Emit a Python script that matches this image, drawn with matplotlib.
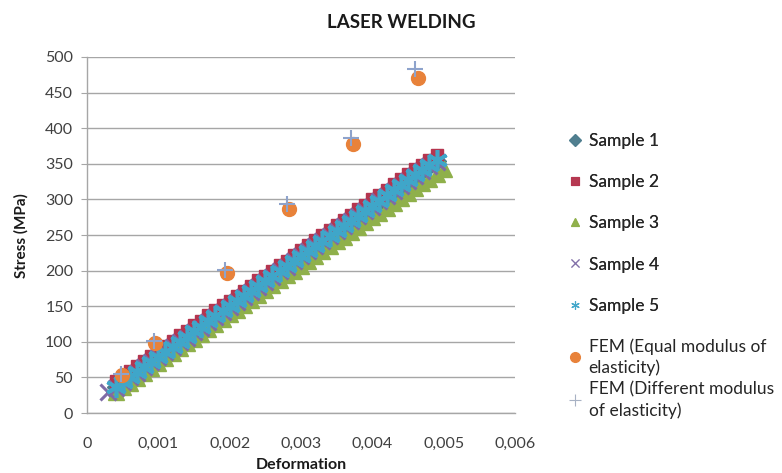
import numpy as np
import matplotlib
matplotlib.use("Agg")
import matplotlib.pyplot as plt
from matplotlib.lines import Line2D
from matplotlib.ticker import FuncFormatter

# ==========================================
# data
# ==========================================
nan = np.nan

strain = [
    0.0003, 0.0004, 0.0005, 0.0006, 0.0007, 0.0008, 0.0009, 0.0010,
    0.0011, 0.0012, 0.0013, 0.0014, 0.0015, 0.0016, 0.0017, 0.0018,
    0.0019, 0.0020, 0.0021, 0.0022, 0.0023, 0.0024, 0.0025, 0.0026,
    0.0027, 0.0028, 0.0029, 0.0030, 0.0031, 0.0032, 0.0033, 0.0034,
    0.0035, 0.0036, 0.0037, 0.0038, 0.0039, 0.0040, 0.0041, 0.0042,
    0.0043, 0.0044, 0.0045, 0.0046, 0.0047, 0.0048, 0.0049, 0.0050,
]

sample1 = [
    nan, 36, 43, 51, 57, 65, 71, 79,
    85, 93, 99, 107, 114, 121, 128, 135,
    142, 150, 156, 164, 170, 178, 184, 192,
    198, 206, 213, 220, 227, 234, 241, 248,
    255, 263, 269, 277, 283, 291, 297, 305,
    312, 319, 326, 333, 340, 347, 354, nan,
]
sample2 = [
    nan, 45, 51, 59, 66, 73, 80, 88,
    94, 101, 109, 115, 123, 129, 137, 144,
    151, 158, 165, 172, 179, 187, 193, 200,
    208, 214, 222, 229, 236, 243, 250, 257,
    264, 271, 278, 286, 292, 300, 306, 313,
    321, 328, 335, 342, 349, 356, 363, nan,
]
sample3 = [
    nan, 29, 36, 42, 49, 56, 63, 70,
    77, 84, 91, 98, 104, 111, 118, 125,
    132, 139, 145, 152, 159, 166, 173, 180,
    187, 194, 200, 207, 214, 221, 227, 234,
    241, 247, 254, 261, 268, 275, 281, 288,
    295, 302, 309, 316, 323, 329, 336, 343,
]
sample4 = [
    29, 35, 43, 50, 56, 64, 71, 78,
    85, 92, 100, 106, 114, 120, 128, 135,
    142, 149, 156, 163, 170, 177, 184, 191,
    199, 205, 213, 220, 227, 234, 241, 248,
    255, 262, 270, 276, 284, 290, 298, 305,
    312, 319, 326, 333, 340, 347, 353, nan,
]
sample5 = [
    nan, 37, 44, 51, 58, 65, 72, 79,
    86, 93, 100, 107, 115, 121, 129, 136,
    143, 150, 157, 164, 171, 178, 185, 192,
    200, 207, 214, 221, 228, 235, 242, 249,
    256, 263, 270, 277, 284, 291, 298, 306,
    313, 320, 327, 334, 341, 348, 355, nan,
]

fem_eq_strain = [0.00049, 0.00095, 0.00196, 0.00283, 0.00373, 0.00464]
fem_eq_stress = [53, 98, 197, 287, 378, 471]
fem_diff_strain = [0.00047, 0.00094, 0.00193, 0.00280, 0.00370, 0.00460]
fem_diff_stress = [55, 101, 201, 294, 386, 483]

x_ticks = [0, 0.001, 0.002, 0.003, 0.004, 0.005, 0.006]
y_ticks = [0, 50, 100, 150, 200, 250, 300, 350, 400, 450, 500]

# ==========================================
# styling
# ==========================================
plt.rcParams['font.family'] = ['Lato', 'DejaVu Sans']
TXT = '#404040'
GRID = '#a6a6a6'

fig = plt.figure(figsize=(7.82, 4.73), dpi=100)
ax = fig.add_axes([87 / 782, 1 - 413 / 473, (515 - 87) / 782, (413 - 57) / 473])

series = [
    ("Sample 1", sample1, dict(marker='D', color='#4d7d8e', ms=9)),
    ("Sample 2", sample2, dict(marker='s', color='#b5354f', ms=9)),
    ("Sample 3", sample3, dict(marker='^', color='#8fb04a', ms=11)),
    ("Sample 4", sample4, dict(marker='x', color='#7e6ba6', ms=12, mew=2.2)),
    ("Sample 5", sample5, dict(marker=(6, 2, 0), color='#3fa6c9', ms=15, mew=2.6)),
]

handles = []
for label, vals, st in series:
    ax.plot(strain, vals, linestyle='none', marker=st['marker'], color=st['color'],
            markersize=st['ms'], markeredgewidth=st.get('mew', 1.0))
    # legend markers look faded/small in the reference
    handles.append(Line2D([], [], linestyle='none', marker=st['marker'], color=st['color'],
                          markersize=6, markeredgewidth=0.8, alpha=0.85, label=label))

ax.plot(fem_eq_strain, fem_eq_stress, linestyle='none', marker='o', color='#e8823a',
        markersize=10)
ax.plot(fem_diff_strain, fem_diff_stress, linestyle='none', marker='+', color='#8ea3cc',
        markersize=12, markeredgewidth=1.5)

fem_handles = [
    Line2D([], [], linestyle='none', marker='o', color='#e8823a', markersize=7,
           label="FEM (Equal modulus of\nelasticity)"),
    Line2D([], [], linestyle='none', marker='+', color='#a8b2c4', markersize=8,
           markeredgewidth=0.8, label="FEM (Different modulus\nof elasticity)"),
]

# axes
ax.set_xlim(0, 0.006)
ax.set_ylim(0, 500)
ax.set_xticks(x_ticks)
ax.set_yticks(y_ticks)
ax.xaxis.set_major_formatter(FuncFormatter(lambda v, p: "0" if v == 0 else f"{v:.3f}".replace('.', ',')))
ax.yaxis.grid(True, color=GRID, linewidth=1.0)
ax.set_axisbelow(True)
for s in ['top', 'right']:
    ax.spines[s].set_visible(False)
for s in ['left', 'bottom']:
    ax.spines[s].set_color(GRID)
    ax.spines[s].set_linewidth(1.0)
ax.tick_params(axis='y', length=4, color=GRID, pad=6, labelsize=11.5, labelcolor=TXT)
ax.tick_params(axis='x', length=0, pad=17, labelsize=11.5, labelcolor=TXT)

fig.text(401 / 782, 1 - 22 / 473, "LASER WELDING", ha='center', va='center',
         fontsize=13.5, fontweight='bold', color='#1a1a1a')
fig.text(21 / 782, 1 - 236 / 473, "Stress (MPa)", ha='center', va='center',
         rotation=90, fontsize=11, fontweight='bold', color='#1a1a1a')
fig.text(301 / 782, 1 - 465 / 473, "Deformation", ha='center', va='center',
         fontsize=11.5, fontweight='bold', color='#1a1a1a')

leg1 = fig.legend(handles=handles, loc='upper left', bbox_to_anchor=(566 / 782, 1 - 133 / 473),
                  frameon=False, fontsize=12.5, borderpad=0, borderaxespad=0,
                  handlelength=1.0, handletextpad=0.3, labelspacing=1.45, labelcolor='#262626')
fig.add_artist(leg1)
leg2 = fig.legend(handles=fem_handles, loc='upper left', bbox_to_anchor=(566 / 782, 1 - 338 / 473),
                  frameon=False, fontsize=12.5, borderpad=0, borderaxespad=0,
                  handlelength=1.0, handletextpad=0.3, labelspacing=0.3, labelcolor='#262626')
for t in leg2.get_texts():
    t.set_linespacing(1.35)

fig.savefig("out.png", dpi=100, facecolor='white')
